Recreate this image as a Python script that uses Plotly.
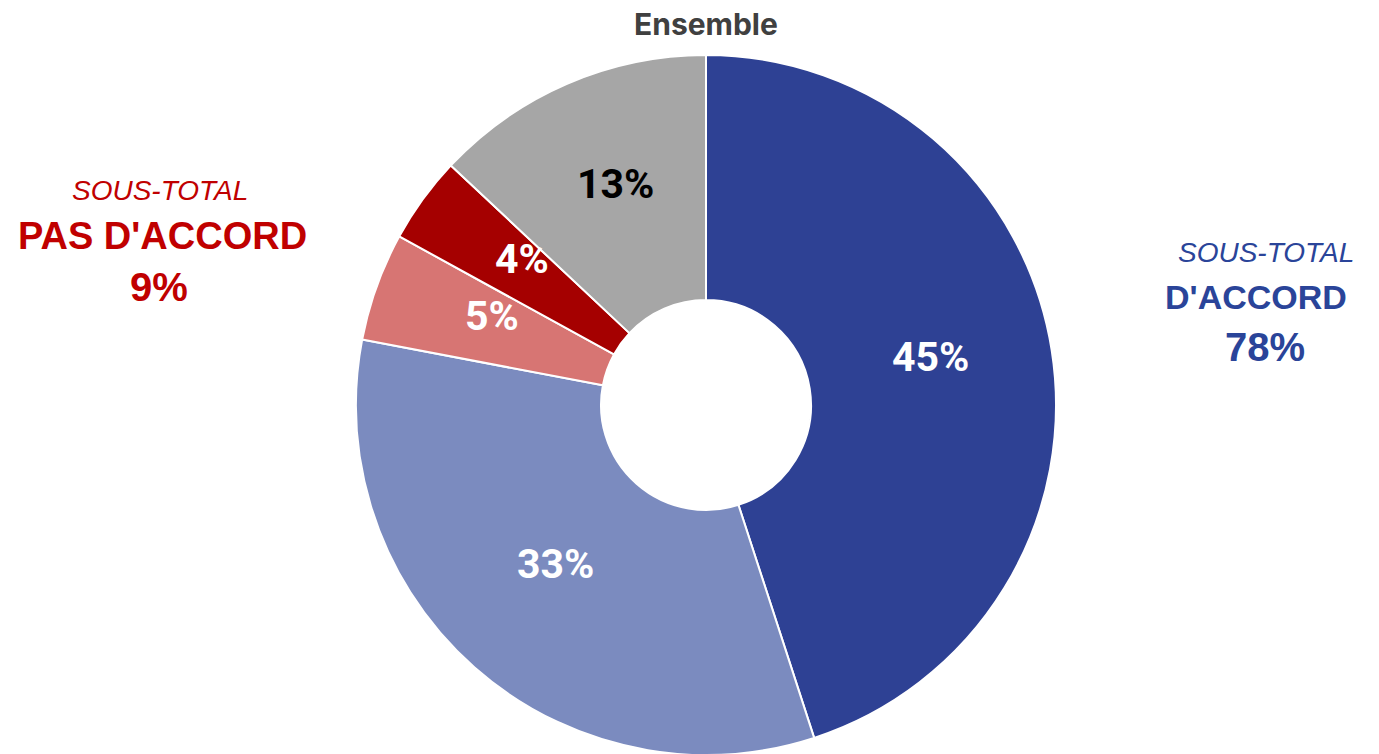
import math
import plotly.graph_objects as go

categories = ["Tout à fait d'accord", "Plutôt d'accord", "Plutôt pas d'accord", "Pas du tout d'accord", "Ne sait pas"]
values = [45, 33, 5, 4, 13]
labels_txt = ["45%", "33%", "5%", "4%", "13%"]
colors = ["#2E4194", "#7B8BBF", "#D77573", "#A50000", "#A6A6A6"]
text_colors = ["white", "white", "white", "white", "black"]

title = "Ensemble"
subtotal_left = ["SOUS-TOTAL", "PAS D'ACCORD", "9%"]
subtotal_right = ["SOUS-TOTAL", "D'ACCORD", "78%"]

W, H = 1379, 754
OFF = 8  # page body margin
cx, cy, r = 706 - OFF, 405 - OFF, 350
HOLE = 0.3

dom_x = [(cx - r) / W, (cx + r) / W]
dom_y = [1 - (cy + r) / H, 1 - (cy - r) / H]

fig = go.Figure(go.Pie(
    labels=categories,
    values=values,
    textinfo="none",
    hole=HOLE,
    sort=False,
    direction="clockwise",
    rotation=0,
    marker=dict(colors=colors, line=dict(color="white", width=2)),
    domain=dict(x=dom_x, y=dom_y),
    showlegend=False,
    hoverinfo="label+percent",
))

# slice labels placed at each slice's mid-angle, mid-ring (derived from the values)
ann = []
total = sum(values)
cum = 0
pcx = (dom_x[0] + dom_x[1]) / 2
pcy = (dom_y[0] + dom_y[1]) / 2
rr = r * (1 + HOLE) / 2
for v, t, c in zip(values, labels_txt, text_colors):
    mid = cum + v / 2
    cum += v
    ang = math.pi / 2 - 2 * math.pi * mid / total
    ann.append(dict(
        x=pcx + rr * math.cos(ang) / W, y=pcy + rr * math.sin(ang) / H,
        xref="paper", yref="paper", text=f"<b>{t}</b>", showarrow=False,
        xanchor="center", yanchor="middle", yshift=12,
        font=dict(family="Roboto", size=41, color=c),
    ))

red = "#C00000"
blue = "#2A4499"


def px(x):
    return (x - OFF) / W


def py(y):
    return 1 - (y - OFF) / H


def add_group(xs, ys, sizes, texts, color):
    fmt = ["<i>{}</i>", "<b>{}</b>", "<b>{}</b>"]
    for xx, yy, t, s, f in zip(xs, ys, texts, sizes, fmt):
        ann.append(dict(x=px(xx), y=py(yy), xref="paper", yref="paper", text=f.format(t),
                        xanchor="center", yanchor="middle", showarrow=False,
                        font=dict(family="Liberation Sans, Arial", size=s, color=color)))


add_group([160, 162, 159], [190, 236, 287], [28, 38, 40], subtotal_left, red)
add_group([1266, 1256, 1265], [252, 297, 347], [28, 34, 40], subtotal_right, blue)

ann.append(dict(x=px(706), y=py(24), xref="paper", yref="paper", text=f"<b>{title}</b>",
                xanchor="center", yanchor="middle", showarrow=False,
                font=dict(family="Inter", size=30, color="#404040")))

fig.update_layout(
    width=W, height=H,
    margin=dict(l=0, r=0, t=0, b=0),
    paper_bgcolor="white",
    plot_bgcolor="white",
    annotations=ann,
)

fig.write_html("out.html")
